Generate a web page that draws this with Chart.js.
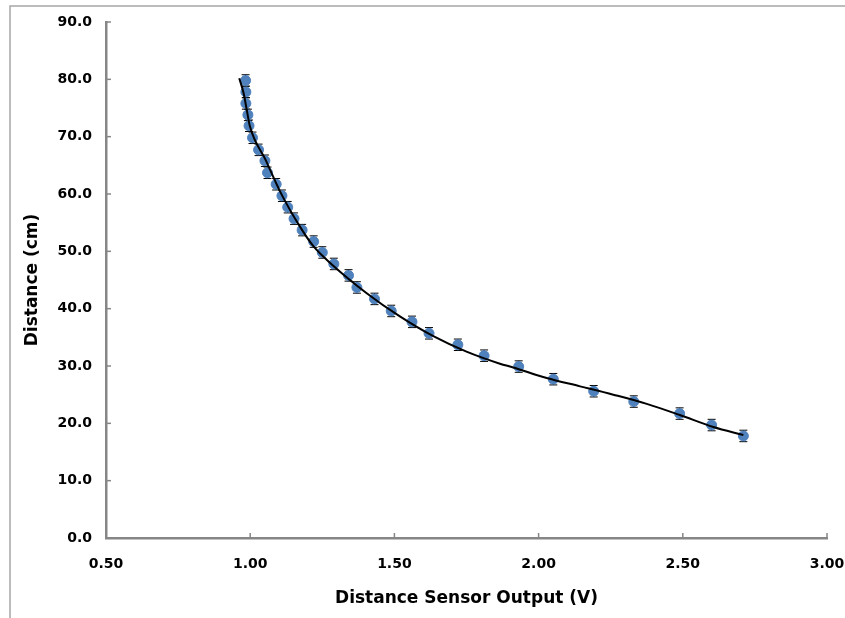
<!DOCTYPE html>
<html>
<head>
<meta charset="utf-8">
<script src="https://cdn.jsdelivr.net/npm/chart.js@4.4.0/dist/chart.umd.min.js"></script>
<style>
  html, body { margin: 0; padding: 0; background: #fff; }
  #wrap { width: 845px; height: 618px; position: relative; }
</style>
</head>
<body>
<div id="wrap"><canvas id="chart" width="845" height="618"></canvas></div>
<script>
// Measured points (sensor output vs distance)
const voltage = [0.984, 0.985, 0.985, 0.992, 0.996, 1.008, 1.029, 1.051, 1.060, 1.090, 1.110, 1.130, 1.152, 1.180, 1.220, 1.250,
                 1.290, 1.341, 1.370, 1.431, 1.489, 1.561, 1.620, 1.720, 1.811, 1.931, 2.051, 2.191, 2.330, 2.489, 2.600, 2.710];
const distance = [79.8, 77.8, 75.8, 73.8, 71.9, 69.8, 67.7, 65.8, 63.7, 61.7, 59.7, 57.7, 55.7, 53.7, 51.7, 49.8,
                  47.8, 45.8, 43.7, 41.7, 39.6, 37.7, 35.7, 33.7, 31.8, 29.9, 27.7, 25.6, 23.8, 21.7, 19.7, 17.8];
const distanceErr = 1.0;

// Fitted curve
const fitX = [0.962, 0.977, 0.988, 0.999, 1.053, 1.106, 1.172, 1.219, 1.288, 1.404, 1.519, 1.635, 1.750, 1.866,
              1.912, 2.028, 2.144, 2.259, 2.375, 2.490, 2.606, 2.710];
const fitY = [80.2, 77.6, 74.7, 71.8, 66.0, 60.2, 54.35, 50.9, 47.5, 42.7, 38.65, 35.2, 32.5, 30.4,
              29.75, 27.9, 26.45, 25.0, 23.4, 21.45, 19.35, 17.95];

// Axis ticks
const xTicks = [0.5, 1.0, 1.5, 2.0, 2.5, 3.0];
const yTicks = [0, 10, 20, 30, 40, 50, 60, 70, 80, 90];

const axisColor = '#868686';
const labelFont = { family: '"DejaVu Sans", sans-serif', size: 14, weight: 'bold' };
const titleFont = { family: '"DejaVu Sans", sans-serif', size: 17, weight: 'bold' };

// error bars + inward tick marks + outer frame
const extras = {
    id: 'extras',
    beforeDraw(chart) {
        const ctx = chart.ctx;
        ctx.save();
        ctx.strokeStyle = '#a6a6a6';
        ctx.lineWidth = 1.5;
        ctx.beginPath();
        ctx.moveTo(10, 618);
        ctx.lineTo(10, 6);
        ctx.lineTo(845, 6);
        ctx.stroke();
        ctx.restore();
    },
    beforeDatasetsDraw(chart) {
        const ctx = chart.ctx;
        const xs = chart.scales.x, ys = chart.scales.y;
        ctx.save();
        ctx.strokeStyle = '#000';
        ctx.lineWidth = 1;
        voltage.forEach((v, i) => {
            const px = xs.getPixelForValue(v);
            const top = ys.getPixelForValue(distance[i] + distanceErr);
            const bot = ys.getPixelForValue(distance[i] - distanceErr);
            ctx.beginPath();
            ctx.moveTo(px, top); ctx.lineTo(px, bot);
            ctx.moveTo(px - 4, top); ctx.lineTo(px + 4, top);
            ctx.moveTo(px - 4, bot); ctx.lineTo(px + 4, bot);
            ctx.stroke();
        });
        // inward ticks
        ctx.strokeStyle = axisColor;
        ctx.lineWidth = 1.5;
        const area = chart.chartArea;
        xTicks.forEach(t => {
            const px = xs.getPixelForValue(t);
            ctx.beginPath();
            ctx.moveTo(px, area.bottom); ctx.lineTo(px, area.bottom - 5);
            ctx.stroke();
        });
        yTicks.forEach(t => {
            const py = ys.getPixelForValue(t);
            ctx.beginPath();
            ctx.moveTo(area.left, py); ctx.lineTo(area.left + 5, py);
            ctx.stroke();
        });
        ctx.restore();
    }
};

const ctx = document.getElementById('chart').getContext('2d');
new Chart(ctx, {
    type: 'scatter',
    data: {
        datasets: [
            {
                label: 'Fit',
                data: fitX.map((x, i) => ({ x: x, y: fitY[i] })),
                showLine: true,
                borderColor: '#000',
                borderWidth: 2,
                pointRadius: 0,
                cubicInterpolationMode: 'monotone',
                order: 0
            },
            {
                label: 'Measured',
                data: voltage.map((x, i) => ({ x: x, y: distance[i] })),
                backgroundColor: '#4f81bd',
                borderColor: '#4f81bd',
                pointRadius: 5,
                order: 1
            }
        ]
    },
    options: {
        responsive: false,
        animation: false,
        layout: { padding: { left: 0, top: 22, right: 18, bottom: 0 } },
        plugins: {
            legend: { display: false },
            tooltip: { enabled: false }
        },
        scales: {
            x: {
                type: 'linear',
                min: 0.5,
                max: 3.0,
                afterBuildTicks: scale => { scale.ticks = xTicks.map(v => ({ value: v })); },
                afterFit: scale => { scale.height = 80; scale.paddingLeft = 0; scale.paddingRight = 0; },
                grid: { display: false, drawTicks: false },
                border: { display: true, color: axisColor, width: 2.5 },
                ticks: {
                    padding: 18,
                    color: '#000',
                    font: labelFont,
                    callback: v => v.toFixed(2)
                },
                title: {
                    display: true,
                    text: 'Distance Sensor Output (V)',
                    color: '#000',
                    font: titleFont,
                    padding: { top: 0, bottom: 9 }
                }
            },
            y: {
                type: 'linear',
                min: 0,
                max: 90,
                afterBuildTicks: scale => { scale.ticks = yTicks.map(v => ({ value: v })); },
                afterFit: scale => { scale.width = 106; scale.paddingTop = 0; scale.paddingBottom = 0; },
                grid: { display: false, drawTicks: false },
                border: { display: true, color: axisColor, width: 2.5 },
                ticks: {
                    padding: 14,
                    color: '#000',
                    font: labelFont,
                    callback: v => v.toFixed(1)
                },
                title: {
                    display: true,
                    text: 'Distance (cm)',
                    color: '#000',
                    font: titleFont,
                    padding: { top: 22, bottom: 0 }
                }
            }
        }
    },
    plugins: [extras]
});
</script>
</body>
</html>
